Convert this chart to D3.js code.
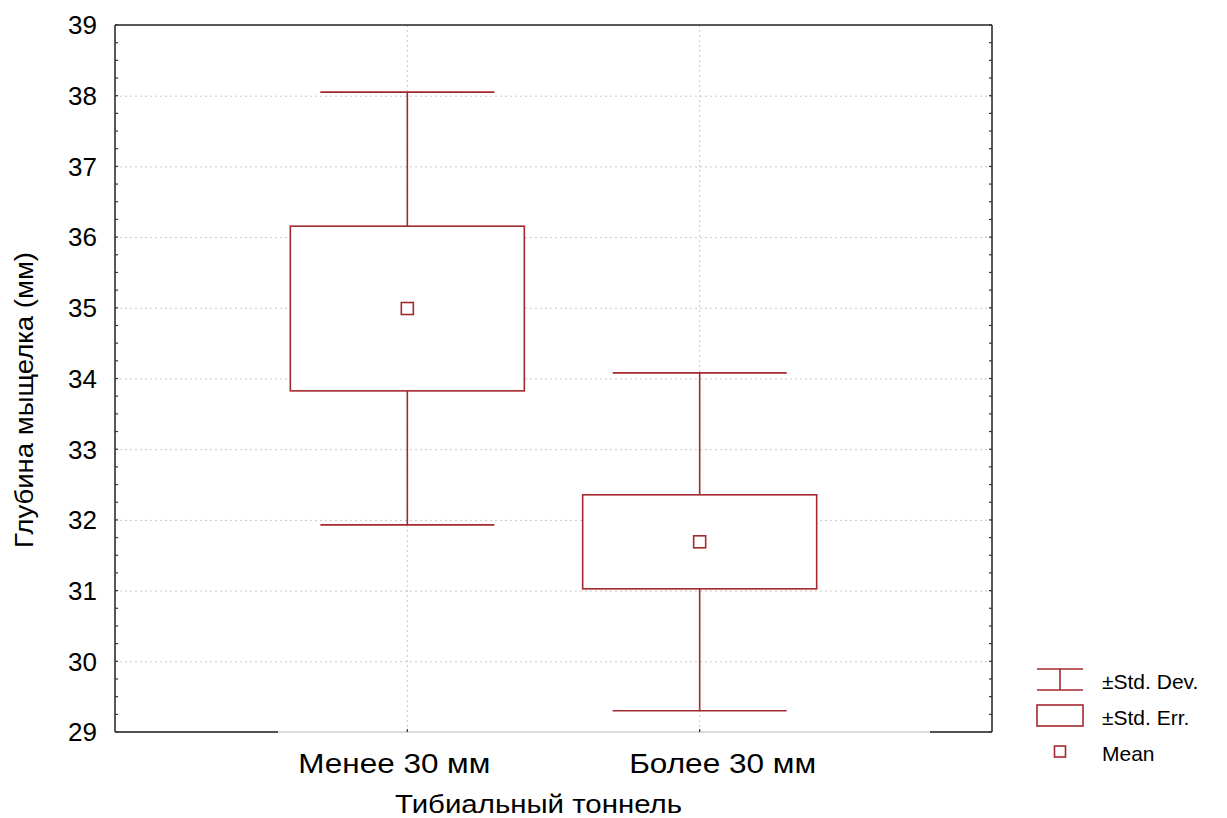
<!DOCTYPE html>
<html>
<head>
<meta charset="utf-8">
<script src="https://cdn.jsdelivr.net/npm/d3@7"></script>
<style>
  body { margin: 0; background: #fff; }
  text { font-family: Arial, "Liberation Sans", sans-serif; fill: #000; }
</style>
</head>
<body>
<svg id="chart" width="1227" height="818"></svg>
<script>
// data
var groups = ["Менее 30 мм", "Более 30 мм"];
var means = [34.99, 31.69];
var stdErr = [1.165, 0.665];
var stdDev = [3.06, 2.39];
var yTicks = [29, 30, 31, 32, 33, 34, 35, 36, 37, 38, 39];
var legendItems = ["±Std. Dev.", "±Std. Err.", "Mean"];

var red = "#a3292e";

var svg = d3.select("#chart"),
    pLeft = 115, pRight = 992, pTop = 25, pBottom = 732;

var x = d3.scalePoint().domain(groups).range([pLeft, pRight]).padding(1);
var y = d3.scaleLinear().domain([29, 39]).range([pBottom, pTop]);

// grid
var grid = svg.append("g")
    .attr("stroke", "#c8c8c8")
    .attr("stroke-width", 1)
    .attr("stroke-dasharray", "2,3");

grid.selectAll("line.h")
  .data(yTicks.slice(1, -1))
  .enter().append("line")
    .attr("x1", pLeft).attr("x2", pRight)
    .attr("y1", d => y(d) + 0.5).attr("y2", d => y(d) + 0.5);

grid.selectAll("line.v")
  .data(groups)
  .enter().append("line")
    .attr("x1", d => x(d)).attr("x2", d => x(d))
    .attr("y1", pTop).attr("y2", pBottom);

// frame
function edge(x1, x2, y1, y2, c, w) {
  svg.append("line").attr("x1", x1).attr("x2", x2).attr("y1", y1).attr("y2", y2)
    .attr("stroke", c).attr("stroke-width", w);
}
edge(pLeft, pRight, pTop, pTop, "#222", 1.5);
edge(pLeft, pLeft, pTop, pBottom, "#222", 1.5);
edge(pRight, pRight, pTop, pBottom, "#222", 1.5);
edge(pLeft, pRight, pBottom, pBottom, "#bbb", 1);
edge(pLeft, 278, pBottom, pBottom, "#222", 1.5);
edge(930, pRight, pBottom, pBottom, "#222", 1.5);

// minor ticks on left and right axes
var minor = d3.range(29, 39.001, 0.25);
var ticks = svg.append("g").attr("stroke", "#333").attr("stroke-width", 1.2);
ticks.selectAll("line.l").data(minor).enter().append("line")
    .attr("x1", pLeft).attr("x2", pLeft + 3)
    .attr("y1", d => y(d)).attr("y2", d => y(d));
ticks.selectAll("line.r").data(minor).enter().append("line")
    .attr("x1", pRight - 3).attr("x2", pRight)
    .attr("y1", d => y(d)).attr("y2", d => y(d));
ticks.selectAll("line.b").data(groups).enter().append("line")
    .attr("x1", d => x(d)).attr("x2", d => x(d))
    .attr("y1", pBottom - 3).attr("y2", pBottom);

// y labels
svg.append("g").selectAll("text")
  .data(yTicks)
  .enter().append("text")
    .attr("x", 97)
    .attr("y", d => y(d))
    .attr("dy", "0.36em")
    .attr("text-anchor", "end")
    .attr("font-size", 26)
    .text(d => d);

// category labels (shifted a little like in the original)
var labelShift = [-13, 23], labelLen = [192, 187];
svg.append("g").selectAll("text")
  .data(groups)
  .enter().append("text")
    .attr("x", (d, i) => x(d) + labelShift[i] - labelLen[i] / 2)
    .attr("y", 773)
    .attr("font-size", 28)
    .attr("textLength", (d, i) => labelLen[i])
    .attr("lengthAdjust", "spacingAndGlyphs")
    .text(d => d);

svg.append("text")
    .attr("x", 395).attr("y", 813)
    .attr("font-size", 25)
    .attr("textLength", 287)
    .attr("lengthAdjust", "spacingAndGlyphs")
    .text("Тибиальный тоннель");

svg.append("text")
    .attr("transform", "translate(33,548) rotate(-90)")
    .attr("font-size", 25)
    .attr("textLength", 296)
    .attr("lengthAdjust", "spacingAndGlyphs")
    .text("Глубина мыщелка (мм)");

// boxes
var boxW = 234, capW = 174;
var g = svg.append("g")
    .attr("stroke", red)
    .attr("stroke-width", 1.6)
    .attr("fill", "none");

groups.forEach(function(k, i) {
  var cx = x(k);
  g.append("line")
    .attr("x1", cx).attr("x2", cx)
    .attr("y1", y(means[i] + stdDev[i])).attr("y2", y(means[i] + stdErr[i]));
  g.append("line")
    .attr("x1", cx).attr("x2", cx)
    .attr("y1", y(means[i] - stdErr[i])).attr("y2", y(means[i] - stdDev[i]));
  g.append("line")
    .attr("x1", cx - capW / 2).attr("x2", cx + capW / 2)
    .attr("y1", y(means[i] + stdDev[i])).attr("y2", y(means[i] + stdDev[i]));
  g.append("line")
    .attr("x1", cx - capW / 2).attr("x2", cx + capW / 2)
    .attr("y1", y(means[i] - stdDev[i])).attr("y2", y(means[i] - stdDev[i]));
  g.append("rect")
    .attr("x", cx - boxW / 2)
    .attr("y", y(means[i] + stdErr[i]))
    .attr("width", boxW)
    .attr("height", y(means[i] - stdErr[i]) - y(means[i] + stdErr[i]))
    .attr("fill", "#fff");
  g.append("rect")
    .attr("x", cx - 6).attr("y", y(means[i]) - 6)
    .attr("width", 12).attr("height", 12)
    .attr("fill", "#fff");
});

// legend
var lg = svg.append("g").attr("stroke", red).attr("stroke-width", 1.6).attr("fill", "none");
lg.append("line").attr("x1", 1037).attr("x2", 1083).attr("y1", 669).attr("y2", 669);
lg.append("line").attr("x1", 1037).attr("x2", 1083).attr("y1", 690).attr("y2", 690);
lg.append("line").attr("x1", 1060).attr("x2", 1060).attr("y1", 669).attr("y2", 690);
lg.append("rect").attr("x", 1037).attr("y", 705).attr("width", 46).attr("height", 21).attr("fill", "#fff");
lg.append("rect").attr("x", 1054.5).attr("y", 746).attr("width", 11).attr("height", 11).attr("fill", "#fff");

svg.append("g").selectAll("text")
  .data(legendItems)
  .enter().append("text")
    .attr("x", 1102)
    .attr("y", (d, i) => 681 + i * 36)
    .attr("dy", "0.36em")
    .attr("font-size", 21)
    .text(d => d);
</script>
</body>
</html>
